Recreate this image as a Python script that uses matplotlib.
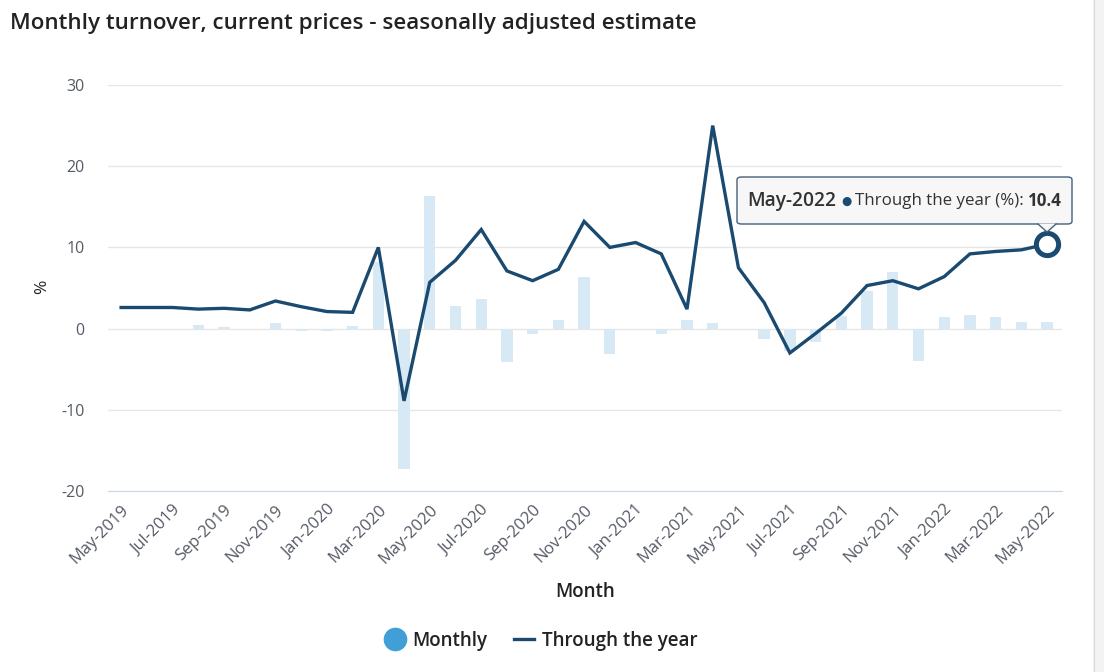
import matplotlib
matplotlib.use("Agg")
import matplotlib.pyplot as plt
from matplotlib.patches import FancyBboxPatch, Polygon, Rectangle
from matplotlib.lines import Line2D

months = ["May-2019", "Jun-2019", "Jul-2019", "Aug-2019", "Sep-2019", "Oct-2019", "Nov-2019", "Dec-2019",
          "Jan-2020", "Feb-2020", "Mar-2020", "Apr-2020", "May-2020", "Jun-2020", "Jul-2020", "Aug-2020",
          "Sep-2020", "Oct-2020", "Nov-2020", "Dec-2020", "Jan-2021", "Feb-2021", "Mar-2021", "Apr-2021",
          "May-2021", "Jun-2021", "Jul-2021", "Aug-2021", "Sep-2021", "Oct-2021", "Nov-2021", "Dec-2021",
          "Jan-2022", "Feb-2022", "Mar-2022", "Apr-2022", "May-2022"]

monthly = [0.0, 0.0, 0.0, 0.4, 0.2, 0.0, 0.7, -0.3, -0.3, 0.3, 8.2, -17.3, 16.3, 2.8, 3.6, -4.1,
           -0.7, 1.1, 6.4, -3.1, 0.0, -0.7, 1.1, 0.7, 0.0, -1.3, -2.7, -1.6, 1.6, 4.6, 7.0, -4.0,
           1.4, 1.7, 1.4, 0.8, 0.8]

through_year = [2.6, 2.6, 2.6, 2.4, 2.5, 2.3, 3.4, 2.7, 2.1, 2.0, 10.0, -8.9, 5.7, 8.4, 12.2, 7.1,
                5.9, 7.3, 13.2, 10.0, 10.6, 9.2, 2.4, 25.0, 7.5, 3.2, -3.0, -0.6, 1.9, 5.3, 5.9, 4.9,
                6.4, 9.2, 9.5, 9.7, 10.4]

yticks = [-20, -10, 0, 10, 20, 30]

FONT = "Open Sans"
plt.rcParams['font.family'] = [FONT, 'DejaVu Sans']

W, H = 1104, 672
fig = plt.figure(figsize=(W / 100, H / 100), dpi=100)
fig.patch.set_facecolor("white")

ax = fig.add_axes([108 / W, 1 - 491 / H, (1062 - 108) / W, (491 - 85) / H])
x = list(range(len(months)))

LINE = "#1a4a70"
ax.bar(x, monthly, width=0.44, color="#d8e9f6", zorder=2)
ax.plot(x, through_year, color=LINE, lw=2.4, zorder=3, solid_joinstyle="miter")
ax.plot([x[-1]], [through_year[-1]], marker="o", ms=16, mfc="white", mec=LINE, mew=3.6, zorder=4)

ax.set_xlim(-0.51, len(months) - 1 + 0.58)
ax.set_ylim(-20, 30)
ax.set_yticks(yticks)
ax.set_yticklabels([str(v) for v in yticks], color="#555a66", fontsize=11.5)
ax.yaxis.grid(True, color="#e6e6e6", lw=1, zorder=0)
ax.set_axisbelow(True)
for s in ["top", "right", "left"]:
    ax.spines[s].set_visible(False)
ax.spines["bottom"].set_color("#ccd6eb")
ax.tick_params(axis="y", length=0, pad=17)
ax.tick_params(axis="x", length=0, pad=8)
ax.set_xticks(x[::2])
ax.set_xticklabels(months[::2], rotation=45, ha="right", rotation_mode="anchor",
                   color="#555a66", fontsize=12)

fig.text(42 / W, 1 - 287 / H, "%", fontsize=12.5, color="#222222", rotation=90, ha="center", va="center")
fig.text(585 / W, 1 - 592 / H, "Month", fontsize=13.5, fontweight="semibold", color="#222222",
         ha="center", va="center")

fig.text(10 / W, 1 - 23 / H, "Monthly turnover, current prices - seasonally adjusted estimate",
         fontsize=16.1, fontweight="semibold", color="#222222", va="center", ha="left")

# legend
leg_handles = [Line2D([], [], marker="o", ls="none", ms=16, mfc="#3f9fd6", mec="#3f9fd6"),
               Line2D([], [], color=LINE, lw=2.4)]
leg = fig.legend(leg_handles, ["Monthly", "Through the year"], loc="center",
                 bbox_to_anchor=(541 / W, 1 - 641 / H), ncol=2, frameon=False,
                 handlelength=1.1, handletextpad=0.4, columnspacing=1.4, labelcolor="#222222",
                 prop={"weight": "semibold", "size": 13.5})

# right border strip
fig.patches.append(Rectangle((1093 / W, 0), 11 / W, 1, transform=fig.transFigure,
                             facecolor="#f3f3f3", edgecolor="none"))
fig.add_artist(Line2D([1093.5 / W, 1093.5 / W], [0, 1], transform=fig.transFigure, color="#dddddd", lw=1))

# tooltip
bx0, by0, bx1, by1 = 737, 177, 1072, 224
box = FancyBboxPatch((bx0 / W, 1 - by1 / H), (bx1 - bx0) / W, (by1 - by0) / H,
                     boxstyle="round,pad=0,rounding_size=0.004", transform=fig.transFigure,
                     facecolor="#f7f7f7", edgecolor="#45607a", lw=1.0, zorder=10)
fig.add_artist(box)
tri = Polygon([((1038) / W, 1 - 223.5 / H), (1047 / W, 1 - 232 / H), (1056 / W, 1 - 223.5 / H)],
              closed=True, transform=fig.transFigure, facecolor="#f7f7f7", edgecolor="none", zorder=11)
fig.add_artist(tri)
fig.add_artist(Line2D([1038 / W, 1047 / W, 1056 / W], [1 - 224 / H, 1 - 232 / H, 1 - 224 / H],
                      transform=fig.transFigure, color="#45607a", lw=1.0, zorder=12))

parts = [("May-2022", "semibold", "#333333", 13.8),
         ("  \u25CF ", "normal", LINE, 8.5),
         ("Through the year (%): ", "normal", "#333333", 12.2),
         ("10.4", "bold", "#333333", 12.2)]
fig.canvas.draw()
renderer = fig.canvas.get_renderer()
cx = 747
ty = 1 - 201 / H
for txt, wt, col, fs in parts:
    t = fig.text(cx / W, ty, txt, fontsize=fs, fontweight=wt, color=col, va="center", ha="left", zorder=13)
    bb = t.get_window_extent(renderer=renderer)
    cx += bb.width

fig.savefig("out.png", dpi=100)
